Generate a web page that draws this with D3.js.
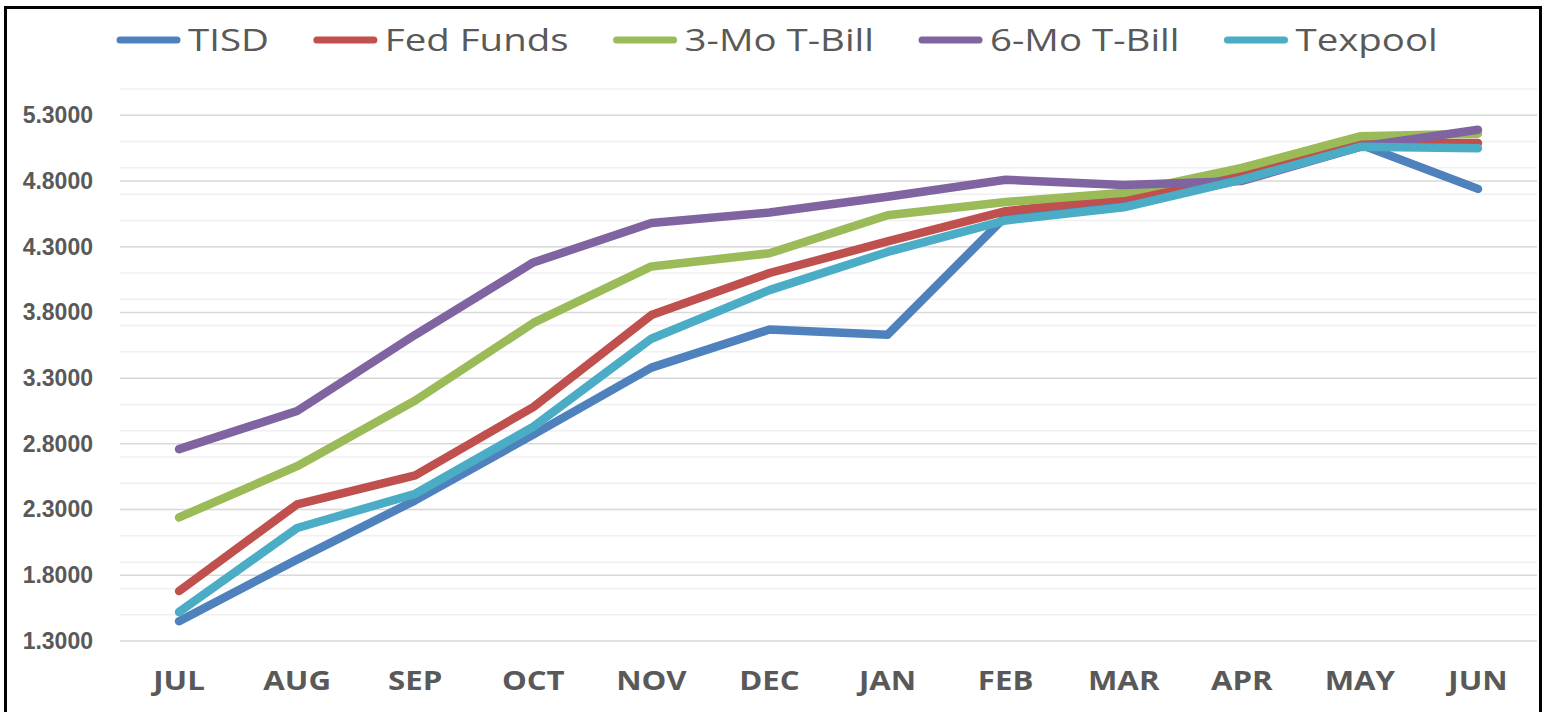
<!DOCTYPE html>
<html>
<head>
<meta charset="utf-8">
<script src="https://cdn.jsdelivr.net/npm/d3@7"></script>
<style>
  body { margin: 0; background: #fff; }
  svg { display: block; }
</style>
</head>
<body>
<div id="chart"></div>
<script>
// months along the x axis
const months = ["JUL", "AUG", "SEP", "OCT", "NOV", "DEC", "JAN", "FEB", "MAR", "APR", "MAY", "JUN"];

// rate series
const tisd = [1.45, 1.92, 2.37, 2.87, 3.38, 3.67, 3.63, 4.53, 4.62, 4.81, 5.08, 4.74];
const fedFunds = [1.68, 2.34, 2.56, 3.08, 3.78, 4.10, 4.34, 4.57, 4.67, 4.84, 5.09, 5.09];
const tBill3 = [2.24, 2.63, 3.13, 3.72, 4.15, 4.25, 4.54, 4.64, 4.71, 4.90, 5.14, 5.16];
const tBill6 = [2.76, 3.05, 3.63, 4.18, 4.48, 4.56, 4.68, 4.81, 4.77, 4.80, 5.06, 5.19];
const texpool = [1.52, 2.16, 2.42, 2.93, 3.60, 3.97, 4.26, 4.50, 4.60, 4.81, 5.06, 5.05];

const seriesNames = ["TISD", "Fed Funds", "3-Mo T-Bill", "6-Mo T-Bill", "Texpool"];
const seriesColors = ["#4F81BD", "#C0504D", "#9BBB59", "#8064A2", "#4BACC6"];

// y axis ticks
const yTicks = [1.3, 1.8, 2.3, 2.8, 3.3, 3.8, 4.3, 4.8, 5.3];
const yMin = 1.3;
const yMax = 5.5;
const minorTicks = d3.range(1.5, 5.51, 0.2);

const allSeries = [tisd, fedFunds, tBill3, tBill6, texpool];

const width = 1549;
const height = 712;

const svg = d3.select("#chart")
    .append("svg")
    .attr("width", width)
    .attr("height", height);

const x = d3.scaleBand()
    .domain(months)
    .range([120, 1537]);

const y = d3.scaleLinear()
    .domain([yMin, yMax])
    .range([641, 89]);

// minor gridlines
svg.append("g")
    .selectAll("line")
    .data(minorTicks)
    .enter().append("line")
    .attr("x1", x.range()[0])
    .attr("x2", x.range()[1])
    .attr("y1", (d) => y(d))
    .attr("y2", (d) => y(d))
    .attr("stroke", "#f0f0f0")
    .attr("stroke-width", 1.5);

// major gridlines
svg.append("g")
    .selectAll("line")
    .data(yTicks)
    .enter().append("line")
    .attr("x1", x.range()[0])
    .attr("x2", x.range()[1])
    .attr("y1", (d) => y(d))
    .attr("y2", (d) => y(d))
    .attr("stroke", "#d9d9d9")
    .attr("stroke-width", 1.5);

// y axis labels
const yAxis = svg.append("g")
    .attr("transform", `translate(${x.range()[0]},0)`)
    .call(d3.axisLeft(y).tickValues(yTicks).tickFormat(d3.format(".4f")).tickSize(0).tickPadding(27));
yAxis.select(".domain").remove();
yAxis.selectAll("text")
    .style("font-family", "'Liberation Sans', Arial, sans-serif")
    .style("font-weight", "bold")
    .style("font-size", "23px")
    .attr("fill", "#595959");

// x axis labels
const xAxis = svg.append("g")
    .attr("transform", `translate(0,${y(yMin)})`)
    .call(d3.axisBottom(x).tickSize(0));
xAxis.select(".domain").remove();
xAxis.selectAll("text")
    .attr("y", 40)
    .attr("dy", "0.35em")
    .attr("transform", "scale(1.2,1)")
    .style("font-family", "'Open Sans', sans-serif")
    .style("font-weight", "bold")
    .style("font-size", "26px")
    .attr("fill", "#595959");

// series lines
const line = d3.line()
    .x((d, i) => x(months[i]) + x.bandwidth() / 2)
    .y((d) => y(d));

svg.append("g")
    .selectAll("path")
    .data(allSeries)
    .enter().append("path")
    .attr("d", line)
    .attr("fill", "none")
    .attr("stroke", (d, i) => seriesColors[i])
    .attr("stroke-width", 8.5)
    .attr("stroke-linecap", "round")
    .attr("stroke-linejoin", "round");

// legend across the top
let legendX = 120;
seriesNames.forEach((name, i) => {
    const item = svg.append("g")
        .attr("transform", `translate(${legendX},40)`);
    item.append("line")
        .attr("x1", 0)
        .attr("x2", 57)
        .attr("stroke", seriesColors[i])
        .attr("stroke-width", 7)
        .attr("stroke-linecap", "round");
    const label = item.append("text")
        .attr("transform", "translate(68,0) scale(1.24,1)")
        .attr("dy", "0.35em")
        .style("font-family", "'Open Sans', sans-serif")
        .style("font-size", "31px")
        .attr("fill", "#595959")
        .text(name);
    legendX += 68 + label.node().getComputedTextLength() * 1.24 + 48;
});

// frame around the chart (bottom edge falls off the picture)
svg.append("path")
    .attr("d", `M5.5,${height + 5} V7.5 H1540.5 V${height + 5}`)
    .attr("fill", "none")
    .attr("stroke", "#000")
    .attr("stroke-width", 3);
</script>
</body>
</html>
